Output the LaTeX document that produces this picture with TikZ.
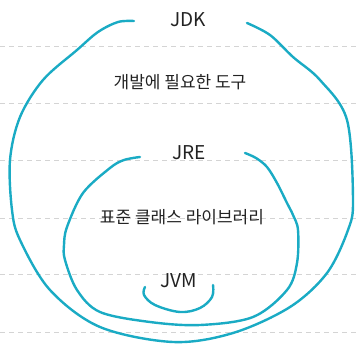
\documentclass[tikz,border=0pt]{standalone}
\usepackage{fontspec}
\setmainfont{Noto Sans CJK KR}
\definecolor{ring}{HTML}{1AABC4}
\definecolor{guide}{HTML}{D4D4D4}
\definecolor{ink}{HTML}{222222}
\begin{document}
\begin{tikzpicture}[x=1pt,y=-1pt,
  guideline/.style={draw=guide,line width=0.9pt,dash pattern=on 5pt off 4pt},
  ringline/.style={draw=ring,line width=2.4pt,line cap=round,line join=round},
  label/.style={text=ink,font=\fontsize{19}{20}\selectfont,inner sep=0pt},
  kor/.style={text=ink,font=\fontsize{17}{18}\selectfont,inner sep=0pt}]
\useasboundingbox (0,0) rectangle (358,345);
\foreach \yy in {46,103,160,218,274,332}
  \draw[guideline] (0,\yy) -- (358,\yy);
% JDK
\draw[ringline] plot[smooth,tension=0.55] coordinates {(134,21) (118,22) (98,32) (77,50) (43,80) (20,117) (10,160) (12,210) (20,240) (50,290) (100,327) (173,342) (233,333) (290,307) (327,273) (348,230) (353,200) (347,120) (320,80) (293,57) (270,35) (247,23)};
% JRE
\draw[ringline] plot[smooth,tension=0.55] coordinates {(140,157) (124,160) (110,168) (83,193) (67,227) (64,245) (65,260) (77,290) (100,312) (150,322) (200,325) (253,317) (287,290) (297,263) (298,230) (293,215) (287,203) (277,183) (267,167) (256,158) (245,153)};
% JVM
\draw[ringline] plot[smooth,tension=0.6] coordinates {(145,287) (144,295) (155,305) (180,312) (200,308) (212,297) (213,285)};
\node[label] (jdk) at (188,20) {JDK};
\node[kor] (jdktools) at (180,82) {개발에 필요한 도구};
\node[label] (jre) at (189,153) {JRE};
\node[kor] (jrelib) at (182,217) {표준 클래스 라이브러리};
\node[label] (jvm) at (179,281) {JVM};
\end{tikzpicture}
\end{document}
